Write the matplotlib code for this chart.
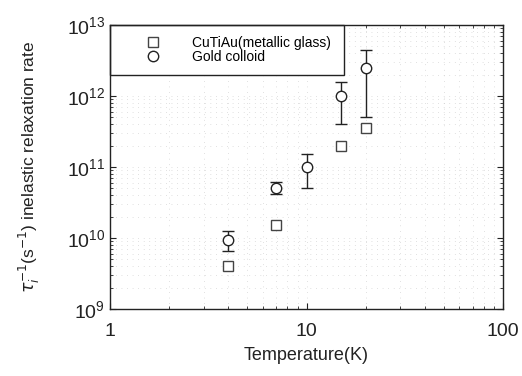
import matplotlib.pyplot as plt
from matplotlib.ticker import LogLocator, NullFormatter

plt.rcParams["font.family"] = ["Liberation Sans", "DejaVu Sans"]

# CuTiAu (metallic glass)
glass_T = [4, 7, 15, 20]
glass_rate = [4.0e9, 1.5e10, 2.0e11, 3.5e11]

# Gold colloid with error bars
gold_T = [4, 7, 10, 15, 20]
gold_rate = [9.5e9, 5.0e10, 1.0e11, 1.0e12, 2.5e12]
gold_low = [6.6e9, 4.2e10, 5.0e10, 4.0e11, 5.0e11]
gold_high = [1.25e10, 6.1e10, 1.5e11, 1.6e12, 4.5e12]

INK = "#222222"


def main():
    fig = plt.figure(figsize=(5.22, 3.76), dpi=100)
    ax = fig.add_axes([110 / 522, 1 - 309 / 376, 393 / 522, 284 / 376])

    ax.set_xscale("log")
    ax.set_yscale("log")
    ax.set_xlim(1, 100)
    ax.set_ylim(1e9, 1e13)

    # faint, sparse dotted grid like the scanned original
    ax.grid(True, which="both", linestyle=(0, (1, 7)), color="#c4c4c4", linewidth=0.5)
    ax.set_axisbelow(True)

    yerr = [[r - lo for r, lo in zip(gold_rate, gold_low)],
            [hi - r for r, hi in zip(gold_rate, gold_high)]]
    ax.errorbar(gold_T, gold_rate, yerr=yerr, fmt="none",
                ecolor=INK, elinewidth=1.0, capsize=4, capthick=1.0, zorder=3)

    ax.plot(glass_T, glass_rate, linestyle="none", marker="s", markersize=7,
            markerfacecolor="white", markeredgecolor="#444444", markeredgewidth=1.0,
            label="CuTiAu(metallic glass)", zorder=4)
    ax.plot(gold_T, gold_rate, linestyle="none", marker="o", markersize=7.5,
            markerfacecolor="white", markeredgecolor=INK, markeredgewidth=1.0,
            label="Gold colloid", zorder=4)

    ax.set_xticks([1, 10, 100])
    ax.set_xticklabels(["1", "10", "100"])
    ax.xaxis.set_minor_locator(LogLocator(base=10, subs=range(2, 10), numticks=10))
    ax.xaxis.set_minor_formatter(NullFormatter())
    ax.yaxis.set_major_locator(LogLocator(base=10, numticks=10))
    ax.yaxis.set_minor_locator(LogLocator(base=10, subs=range(2, 10), numticks=10))
    ax.yaxis.set_minor_formatter(NullFormatter())

    ax.tick_params(which="both", direction="in", top=True, right=True, colors=INK,
                   labelsize=14)
    ax.tick_params(which="major", length=4, width=0.8)
    ax.tick_params(which="minor", length=2, width=0.6)
    ax.tick_params(axis="x", pad=10)
    for sp in ax.spines.values():
        sp.set_color(INK)
        sp.set_linewidth(1.0)

    ax.set_xlabel("Temperature(K)", fontsize=13, color=INK, labelpad=5)
    ax.set_ylabel(r"$\tau_i^{-1}$(s$^{-1}$) inelastic relaxation rate", fontsize=12.5,
                  color=INK, labelpad=18)

    leg = ax.legend(loc="upper left", bbox_to_anchor=(0.0, 0.0, 234 / 393, 1.0),
                    mode="expand", fontsize=10, frameon=True, fancybox=False,
                    edgecolor=INK, borderaxespad=0.0, borderpad=0.8,
                    handlelength=4.6, handletextpad=0.5, labelspacing=0.0)
    leg.get_frame().set_linewidth(1.0)
    leg.get_frame().set_alpha(1.0)
    leg.set_zorder(2)

    fig.savefig("out.png", dpi=100)
    plt.close(fig)


if __name__ == "__main__":
    main()
